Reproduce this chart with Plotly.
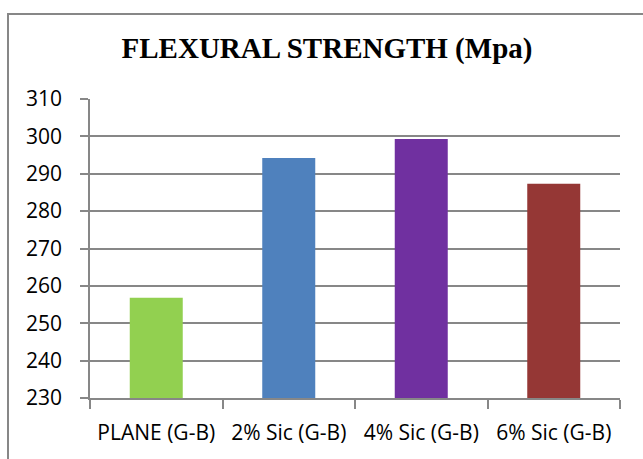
import plotly.graph_objects as go

# Flexural strength of each specimen group (MPa)
categories = ["PLANE (G-B)", "2% Sic (G-B)", "4% Sic (G-B)", "6% Sic (G-B)"]
strength = [256.8, 294.2, 299.3, 287.3]
bar_colors = ["#92D050", "#4F81BD", "#7030A0", "#953735"]
y_ticks = [230, 240, 250, 260, 270, 280, 290, 300, 310]

W, H = 643, 459
L, R, T, B = 90, 23, 99, 61
pw, ph = W - L - R, H - T - B

fig = go.Figure(
    go.Bar(
        x=categories,
        y=strength,
        marker=dict(color=bar_colors, line=dict(width=0)),
        width=0.4,
        hoverinfo="x+y",
    )
)

axis_grey = "#878787"
tick_font = dict(family="Open Sans", size=21, color="#000000")

fig.update_layout(
    width=W,
    height=H,
    margin=dict(l=L, r=R, t=T, b=B, pad=0),
    paper_bgcolor="white",
    plot_bgcolor="white",
    showlegend=False,
    title=dict(
        text="<b>FLEXURAL STRENGTH (Mpa)</b>",
        font=dict(family="Liberation Serif", size=29, color="#000000"),
        x=327 / W,
        xanchor="center",
        xref="container",
        y=1 - 48 / H,
        yanchor="middle",
        yref="container",
    ),
    xaxis=dict(
        type="category",
        showgrid=False,
        showline=True,
        linecolor=axis_grey,
        linewidth=1.5,
        ticks="outside",
        tickson="boundaries",
        ticklen=9,
        tickcolor=axis_grey,
        tickwidth=1.5,
        tickfont=tick_font,
        ticklabelstandoff=15,
    ),
    yaxis=dict(
        range=[230, 310],
        tickvals=y_ticks,
        ticktext=[str(v) for v in y_ticks],
        showgrid=True,
        gridcolor=axis_grey,
        gridwidth=2,
        showline=True,
        linecolor=axis_grey,
        linewidth=1.5,
        ticks="outside",
        ticklen=8,
        tickcolor=axis_grey,
        tickwidth=1.5,
        tickfont=tick_font,
        ticklabelstandoff=14,
        zeroline=False,
    ),
    shapes=[
        # chart-area border, running off the right and bottom edges
        dict(
            type="rect",
            xref="paper",
            yref="paper",
            x0=(8 - L) / pw,
            x1=(W + 60 - L) / pw,
            y0=-(B + 60) / ph,
            y1=(H - B - 14) / ph,
            line=dict(color=axis_grey, width=2),
            fillcolor="rgba(0,0,0,0)",
            layer="below",
        )
    ],
)

fig.write_html("out.html")
